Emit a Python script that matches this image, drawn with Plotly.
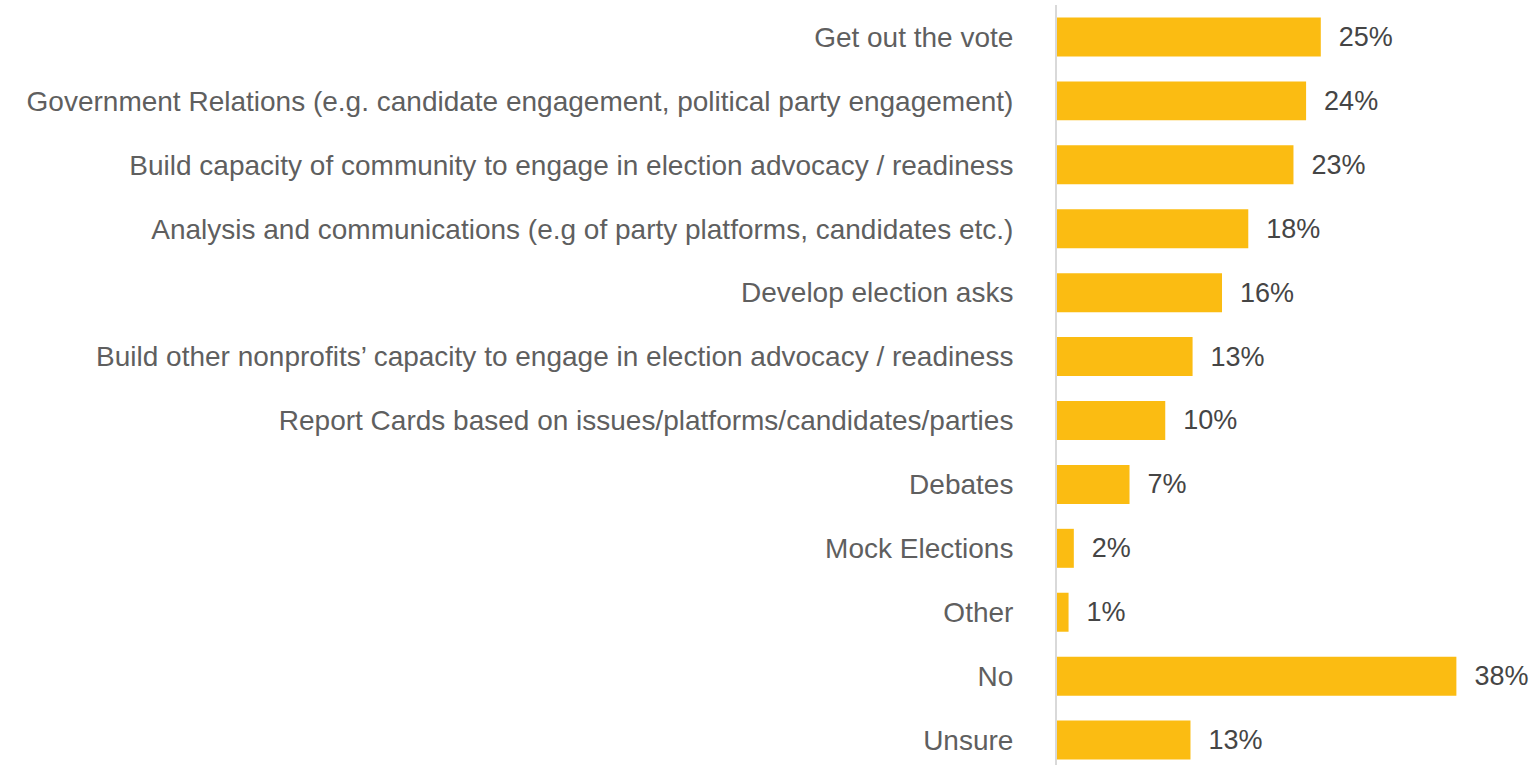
import plotly.graph_objects as go

categories = [
    "Get out the vote",
    "Government Relations (e.g. candidate engagement, political party engagement)",
    "Build capacity of community to engage in election advocacy / readiness",
    "Analysis and communications (e.g of party platforms, candidates etc.)",
    "Develop election asks",
    "Build other nonprofits\u2019 capacity to engage in election advocacy / readiness",
    "Report Cards based on issues/platforms/candidates/parties",
    "Debates",
    "Mock Elections",
    "Other",
    "No",
    "Unsure",
]
values = [25.1, 23.7, 22.5, 18.2, 15.7, 12.9, 10.3, 6.9, 1.6, 1.1, 38.0, 12.7]
value_labels = ["25%", "24%", "23%", "18%", "16%", "13%", "10%", "7%", "2%", "1%", "38%", "13%"]

positions = list(range(len(categories)))

fig = go.Figure(
    go.Bar(
        x=values,
        y=positions,
        orientation="h",
        width=0.61,
        marker=dict(color="#FBBC12", line=dict(width=0)),
        text=["  " + t for t in value_labels],
        textposition="outside",
        cliponaxis=False,
        textfont=dict(family="Liberation Sans, Arial, sans-serif", size=27, color="#454545"),
        hoverinfo="skip",
    )
)

fig.update_layout(
    width=1531,
    height=765,
    margin=dict(l=1057, r=0, t=5, b=0),
    paper_bgcolor="white",
    plot_bgcolor="white",
    showlegend=False,
    font=dict(family="Liberation Sans, Arial, sans-serif", size=28, color="#5F5F5F"),
    xaxis=dict(range=[0, 45.1], visible=False, fixedrange=True),
    yaxis=dict(
        range=[11.39, -0.5],
        tickvals=positions,
        ticktext=categories,
        showgrid=False,
        zeroline=False,
        showline=True,
        linecolor="#D9D9D9",
        linewidth=2,
        ticks="",
        ticklabelstandoff=36,
        tickfont=dict(size=28, color="#5F5F5F"),
        fixedrange=True,
    ),
)

fig.write_html(
    "out.html",
    config={"displayModeBar": False},
    post_script="document.body.style.margin='0';document.body.style.padding='0';",
)
